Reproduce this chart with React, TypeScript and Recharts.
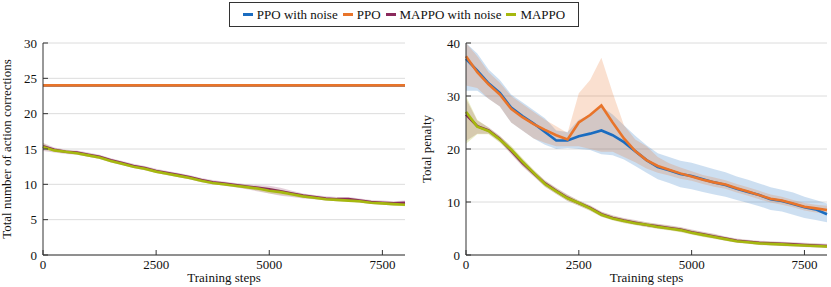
import { ComposedChart, Area, Line, XAxis, YAxis, CartesianGrid } from 'recharts';

const steps = [
  0, 250, 500, 750, 1000, 1250, 1500, 1750, 2000, 2250, 2500, 2750, 3000, 3250, 3500, 3750, 4000,
  4250, 4500, 4750, 5000, 5250, 5500, 5750, 6000, 6250, 6500, 6750, 7000, 7250, 7500, 7750, 8000,
];
const xTicks = [0, 2500, 5000, 7500];

// left panel: total number of action corrections
const ppoNoiseLeft = [
  24, 24, 24, 24, 24, 24, 24, 24, 24, 24, 24, 24, 24, 24, 24, 24, 24,
  24, 24, 24, 24, 24, 24, 24, 24, 24, 24, 24, 24, 24, 24, 24, 24,
];
const ppoLeft = [
  24, 24, 24, 24, 24, 24, 24, 24, 24, 24, 24, 24, 24, 24, 24, 24, 24,
  24, 24, 24, 24, 24, 24, 24, 24, 24, 24, 24, 24, 24, 24, 24, 24,
];
const mappoNoiseLeft = [
  15.4, 14.9, 14.6, 14.5, 14.2, 13.9, 13.4, 13.0, 12.6, 12.3, 11.9, 11.6, 11.3, 11.0, 10.6, 10.3, 10.1,
  9.9, 9.7, 9.5, 9.3, 9.0, 8.7, 8.4, 8.2, 8.0, 7.9, 7.9, 7.7, 7.5, 7.4, 7.3, 7.4,
];
const mappoNoiseLeftLo = [
  14.7, 14.5, 14.3, 14.2, 13.9, 13.6, 13.1, 12.7, 12.3, 12.0, 11.6, 11.3, 11.0, 10.7, 10.3, 10.0, 9.8,
  9.6, 9.3, 9.0, 8.7, 8.4, 8.2, 8.0, 7.9, 7.7, 7.6, 7.6, 7.4, 7.2, 7.1, 7.0, 7.1,
];
const mappoNoiseLeftHi = [
  15.9, 15.2, 14.9, 14.8, 14.5, 14.2, 13.7, 13.3, 12.9, 12.6, 12.2, 11.9, 11.6, 11.3, 10.9, 10.6, 10.4,
  10.2, 10.0, 9.9, 9.8, 9.5, 9.1, 8.7, 8.5, 8.3, 8.2, 8.2, 8.0, 7.8, 7.7, 7.6, 7.7,
];
const mappoLeft = [
  15.3, 14.8, 14.6, 14.4, 14.1, 13.8, 13.3, 12.9, 12.5, 12.2, 11.8, 11.5, 11.2, 10.9, 10.5, 10.2, 10.0,
  9.8, 9.6, 9.4, 9.1, 8.9, 8.6, 8.3, 8.1, 7.9, 7.8, 7.7, 7.6, 7.4, 7.3, 7.2, 7.1,
];
const mappoLeftLo = [
  14.9, 14.6, 14.4, 14.2, 13.9, 13.6, 13.1, 12.7, 12.3, 12.0, 11.6, 11.3, 11.0, 10.7, 10.3, 10.0, 9.8,
  9.6, 9.4, 9.1, 8.7, 8.5, 8.3, 8.1, 7.9, 7.7, 7.6, 7.5, 7.4, 7.2, 7.1, 7.0, 6.9,
];
const mappoLeftHi = [
  15.8, 15.0, 14.8, 14.6, 14.3, 14.0, 13.5, 13.1, 12.7, 12.4, 12.0, 11.7, 11.4, 11.1, 10.7, 10.4, 10.2,
  10.0, 9.8, 9.7, 9.5, 9.2, 8.9, 8.5, 8.3, 8.1, 8.0, 7.9, 7.8, 7.6, 7.5, 7.4, 7.3,
];

// right panel: total penalty
const ppoNoiseRight = [
  37.0, 34.8, 32.4, 30.6, 27.8, 26.2, 24.8, 23.2, 21.6, 21.6, 22.4, 22.9, 23.5, 22.6, 21.3, 19.6, 17.9,
  16.6, 16.0, 15.3, 14.9, 14.3, 13.7, 13.2, 12.5, 11.9, 11.3, 10.5, 10.2, 9.6, 9.0, 8.6, 7.7,
];
const ppoNoiseRightLo = [
  31.0, 31.0, 29.5, 28.0, 25.0, 23.5, 22.0, 20.8, 20.0, 20.2, 20.0, 19.8, 19.0, 18.8, 18.0, 16.8, 15.5,
  14.3, 13.6, 12.8, 12.4, 11.9, 11.4, 11.0, 10.4, 9.8, 9.2, 8.5, 8.2, 7.6, 7.0, 6.6, 6.2,
];
const ppoNoiseRightHi = [
  40.0, 38.0, 35.0, 33.0, 30.3, 28.8, 27.3, 25.8, 23.5, 23.2, 25.5, 26.5, 28.0, 26.5, 24.5, 22.5, 20.7,
  19.2, 18.5, 17.8, 17.4, 16.8, 16.2, 15.6, 14.8, 14.2, 13.5, 12.8, 12.3, 11.8, 11.0, 10.4, 9.7,
];
const ppoRight = [
  37.5, 34.5, 32.2, 30.3, 27.6, 26.0, 24.7, 23.6, 22.6, 21.8, 25.0, 26.4, 28.2, 25.0, 22.0, 19.6, 17.9,
  16.8, 16.1, 15.4, 14.8, 14.2, 13.7, 13.3, 12.6, 12.0, 11.3, 10.6, 10.3, 9.7, 9.1, 8.8, 8.5,
];
const ppoRightLo = [
  32.0, 31.5, 29.5, 28.0, 25.0, 23.5, 22.0, 21.2, 20.5, 20.5, 20.5, 20.0, 19.5, 19.5, 18.5, 17.5, 16.3,
  15.5, 15.0, 14.4, 14.0, 13.4, 12.9, 12.5, 11.8, 11.2, 10.5, 9.9, 9.5, 9.0, 8.4, 8.0, 7.8,
];
const ppoRightHi = [
  40.0, 37.5, 34.5, 32.5, 30.0, 28.5, 27.0, 25.5, 24.3, 23.0, 30.5, 33.0, 37.2, 30.6, 24.5, 21.8, 20.5,
  18.5, 17.3, 16.5, 15.8, 15.1, 14.6, 14.1, 13.4, 12.8, 12.1, 11.4, 11.0, 10.4, 9.8, 9.5, 9.3,
];
const mappoNoiseRight = [
  26.5, 24.3, 23.5, 21.9, 19.7, 17.4, 15.4, 13.5, 12.1, 10.8, 9.8, 8.9, 7.7, 7.0, 6.5, 6.1, 5.7,
  5.4, 5.1, 4.8, 4.3, 3.9, 3.5, 3.1, 2.7, 2.5, 2.3, 2.2, 2.1, 2.0, 1.9, 1.8, 1.7,
];
const mappoNoiseRightLo = [
  21.5, 22.9, 22.9, 21.3, 19.0, 16.7, 14.8, 12.9, 11.5, 10.2, 9.3, 8.4, 7.2, 6.6, 6.1, 5.7, 5.3,
  5.0, 4.7, 4.4, 3.9, 3.5, 3.1, 2.7, 2.3, 2.1, 1.9, 1.8, 1.7, 1.6, 1.5, 1.4, 1.3,
];
const mappoNoiseRightHi = [
  29.5, 25.4, 24.1, 22.5, 20.4, 18.1, 16.0, 14.1, 12.7, 11.4, 10.3, 9.4, 8.2, 7.5, 7.0, 6.6, 6.2,
  5.9, 5.6, 5.3, 4.8, 4.4, 4.0, 3.5, 3.1, 2.9, 2.7, 2.6, 2.5, 2.4, 2.3, 2.2, 2.1,
];
const mappoRight = [
  27.0, 24.2, 23.4, 21.8, 19.9, 17.6, 15.5, 13.4, 12.0, 10.7, 9.8, 8.8, 7.6, 6.9, 6.4, 6.0, 5.7,
  5.3, 5.0, 4.7, 4.2, 3.8, 3.4, 3.0, 2.6, 2.4, 2.2, 2.1, 2.0, 1.9, 1.8, 1.7, 1.6,
];
const mappoRightLo = [
  21.0, 22.8, 22.8, 21.2, 19.2, 16.9, 14.9, 12.9, 11.5, 10.2, 9.3, 8.3, 7.2, 6.5, 6.0, 5.6, 5.3,
  4.9, 4.6, 4.3, 3.8, 3.4, 3.0, 2.7, 2.3, 2.1, 1.9, 1.8, 1.7, 1.6, 1.5, 1.4, 1.3,
];
const mappoRightHi = [
  30.0, 25.5, 24.0, 22.4, 20.6, 18.3, 16.1, 14.0, 12.6, 11.3, 10.3, 9.3, 8.1, 7.4, 6.9, 6.5, 6.2,
  5.8, 5.5, 5.2, 4.7, 4.3, 3.9, 3.4, 3.0, 2.8, 2.6, 2.5, 2.4, 2.3, 2.2, 2.1, 2.0,
];

const BLUE = '#1a6cc0';
const ORANGE = '#e8742a';
const PURPLE = '#8a2a5c';
const OLIVE = '#a6b80f';
const AXIS = '#333';
const FONT = '"Liberation Serif", "Times New Roman", serif';

const leftData = steps.map((step, i) => ({
  step,
  ppoNoise: ppoNoiseLeft[i],
  ppo: ppoLeft[i],
  mappoNoise: mappoNoiseLeft[i],
  mappo: mappoLeft[i],
  ppoNoiseBand: [ppoNoiseLeft[i], ppoNoiseLeft[i]],
  ppoBand: [ppoLeft[i], ppoLeft[i]],
  mappoNoiseBand: [mappoNoiseLeftLo[i], mappoNoiseLeftHi[i]],
  mappoBand: [mappoLeftLo[i], mappoLeftHi[i]],
}));

const rightData = steps.map((step, i) => ({
  step,
  ppoNoise: ppoNoiseRight[i],
  ppo: ppoRight[i],
  mappoNoise: mappoNoiseRight[i],
  mappo: mappoRight[i],
  ppoNoiseBand: [ppoNoiseRightLo[i], ppoNoiseRightHi[i]],
  ppoBand: [ppoRightLo[i], ppoRightHi[i]],
  mappoNoiseBand: [mappoNoiseRightLo[i], mappoNoiseRightHi[i]],
  mappoBand: [mappoRightLo[i], mappoRightHi[i]],
}));

const series = [
  { key: 'ppoNoise', name: 'PPO with noise', color: BLUE },
  { key: 'ppo', name: 'PPO', color: ORANGE },
  { key: 'mappoNoise', name: 'MAPPO with noise', color: PURPLE },
  { key: 'mappo', name: 'MAPPO', color: OLIVE },
];

const tickStyle = { fill: '#111', fontSize: 13, fontFamily: FONT };

type PanelProps = {
  data: any[];
  left: number;
  width: number;
  yAxisWidth: number;
  marginRight: number;
  yMax: number;
  yTicks: number[];
  yLabel: string;
};

function Panel({ data, left, width, yAxisWidth, marginRight, yMax, yTicks, yLabel }: PanelProps) {
  return (
    <div style={{ position: 'absolute', left, top: 0 }}>
      <ComposedChart
        width={width}
        height={287}
        data={data}
        margin={{ top: 43, right: marginRight, bottom: 0, left: 0 }}
      >
        <CartesianGrid vertical={false} stroke="#dcdcdc" />
        <XAxis
          dataKey="step"
          type="number"
          domain={[0, 8000]}
          ticks={xTicks}
          height={32}
          stroke={AXIS}
          tick={tickStyle}
          tickSize={-5}
          tickMargin={10}
          label={{ value: 'Training steps', position: 'insideBottom', offset: 5, style: { ...tickStyle } }}
        />
        <XAxis
          xAxisId="top"
          orientation="top"
          type="number"
          domain={[0, 8000]}
          ticks={xTicks}
          height={0}
          stroke={AXIS}
          tickSize={-5}
          tickFormatter={() => ''}
        />
        <YAxis
          type="number"
          domain={[0, yMax]}
          ticks={yTicks}
          width={yAxisWidth}
          stroke={AXIS}
          tick={tickStyle}
          tickSize={-5}
          tickMargin={11}
          label={{
            value: yLabel,
            angle: -90,
            position: 'insideLeft',
            offset: 6,
            style: { ...tickStyle, textAnchor: 'middle' },
          }}
        />
        <YAxis
          yAxisId="right"
          orientation="right"
          type="number"
          domain={[0, yMax]}
          ticks={yTicks}
          width={0}
          stroke={AXIS}
          tickSize={-5}
          tickFormatter={() => ''}
        />
        {series.map((s) => (
          <Area
            key={s.key + 'Band'}
            dataKey={s.key + 'Band'}
            type="linear"
            stroke="none"
            fill={s.color}
            fillOpacity={0.22}
            activeDot={false}
            isAnimationActive={false}
          />
        ))}
        {series.map((s) => (
          <Line
            key={s.key}
            dataKey={s.key}
            type="linear"
            stroke={s.color}
            strokeWidth={2.6}
            dot={false}
            activeDot={false}
            isAnimationActive={false}
          />
        ))}
      </ComposedChart>
    </div>
  );
}

function LegendBox() {
  return (
    <div
      style={{
        position: 'absolute',
        left: 229,
        top: 2,
        width: 350,
        height: 25,
        boxSizing: 'border-box',
        border: `1px solid ${AXIS}`,
        display: 'flex',
        alignItems: 'center',
        justifyContent: 'center',
        fontFamily: FONT,
        fontSize: 13,
        color: '#111',
        background: '#fff',
      }}
    >
      {series.map((s, i) => (
        <span key={s.key} style={{ display: 'flex', alignItems: 'center', marginLeft: i === 0 ? 0 : 5 }}>
          <span style={{ display: 'inline-block', width: 10, height: 3, background: s.color, marginRight: 4 }} />
          <span>{s.name}</span>
        </span>
      ))}
    </div>
  );
}

export default function App() {
  return (
    <div style={{ position: 'absolute', left: 0, top: 0, width: 831, height: 287, background: '#fff' }}>
      <Panel
        data={leftData}
        left={0}
        width={420}
        yAxisWidth={43}
        marginRight={15}
        yMax={30}
        yTicks={[0, 5, 10, 15, 20, 25, 30]}
        yLabel="Total number of action corrections"
      />
      <Panel
        data={rightData}
        left={420}
        width={411}
        yAxisWidth={46}
        marginRight={4}
        yMax={40}
        yTicks={[0, 10, 20, 30, 40]}
        yLabel="Total penalty"
      />
      <LegendBox />
    </div>
  );
}
